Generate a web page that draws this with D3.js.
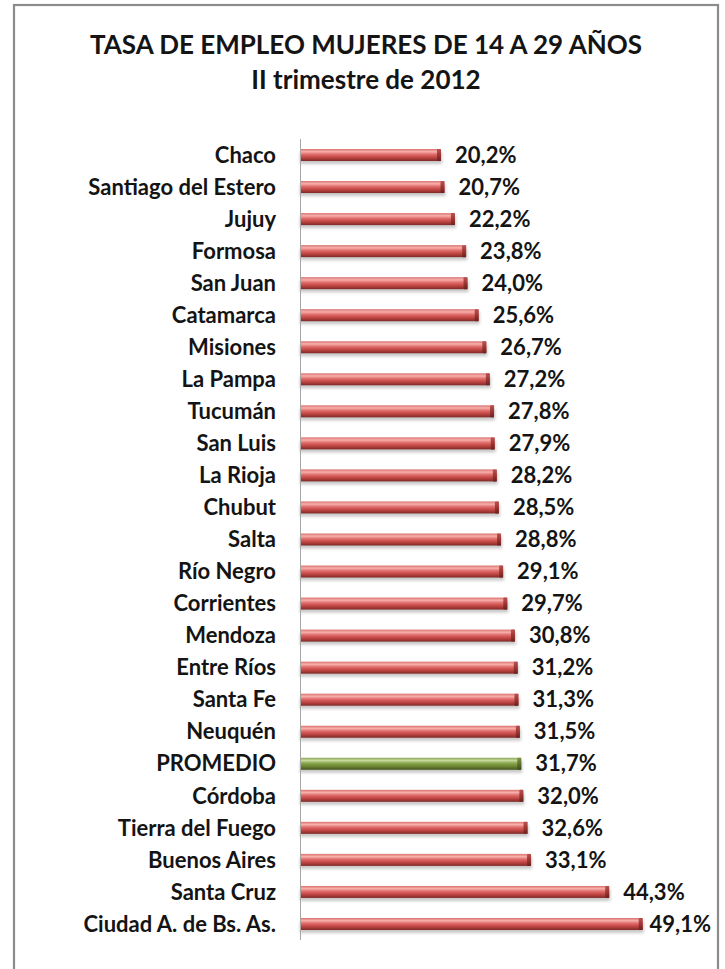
<!DOCTYPE html>
<html>
<head>
<meta charset="utf-8">
<script src="https://cdn.jsdelivr.net/npm/d3@7"></script>
<style>
  html, body { margin: 0; padding: 0; background: #fff; }
  svg { display: block; }
  text { font-family: Lato, "Open Sans", sans-serif; font-weight: bold; fill: #141414; }
</style>
</head>
<body>
<svg id="chart" width="725" height="969"></svg>
<script>
const titleLines = ["TASA DE EMPLEO MUJERES DE 14 A 29 AÑOS", "II trimestre de 2012"];
const categories = ["Chaco", "Santiago del Estero", "Jujuy", "Formosa", "San Juan", "Catamarca",
  "Misiones", "La Pampa", "Tucumán", "San Luis", "La Rioja", "Chubut", "Salta", "Río Negro",
  "Corrientes", "Mendoza", "Entre Ríos", "Santa Fe", "Neuquén", "PROMEDIO", "Córdoba",
  "Tierra del Fuego", "Buenos Aires", "Santa Cruz", "Ciudad A. de Bs. As."];
const values = [20.2, 20.7, 22.2, 23.8, 24.0, 25.6, 26.7, 27.2, 27.8, 27.9, 28.2, 28.5, 28.8, 29.1,
  29.7, 30.8, 31.2, 31.3, 31.5, 31.7, 32.0, 32.6, 33.1, 44.3, 49.1];
const highlight = "PROMEDIO";

const svg = d3.select("#chart");
const defs = svg.append("defs");

function grad(id, stops) {
  const g = defs.append("linearGradient").attr("id", id)
    .attr("x1", 0).attr("y1", 0).attr("x2", 0).attr("y2", 1);
  stops.forEach(s => g.append("stop").attr("offset", s[0]).attr("stop-color", s[1]));
}
grad("gRed", [[0, "#d9706d"], [0.22, "#f7b0ad"], [0.45, "#e06b68"], [0.75, "#b8403d"], [1, "#7e2a28"]]);
grad("gGreen", [[0, "#8aa553"], [0.22, "#c6d9a0"], [0.45, "#8aa64e"], [0.75, "#67802f"], [1, "#44561f"]]);
grad("gRedCap", [[0, "#b85350"], [0.4, "#a53b38"], [1, "#6b2120"]]);
grad("gGreenCap", [[0, "#7a9447"], [0.4, "#63792f"], [1, "#3b4a1a"]]);

const filt = defs.append("filter").attr("id", "shadow")
  .attr("x", "-5%").attr("y", "-50%").attr("width", "110%").attr("height", "250%");
filt.append("feGaussianBlur").attr("stdDeviation", 1.6);

// frame
svg.append("rect").attr("x", 14).attr("y", 5).attr("width", 704).attr("height", 980)
  .attr("fill", "none").attr("stroke", "#8c8c8c").attr("stroke-width", 2.2);

// title
svg.append("text").attr("x", 366).attr("y", 54).attr("text-anchor", "middle")
  .style("font-size", "26px").text(titleLines[0]);
svg.append("text").attr("x", 366).attr("y", 89).attr("text-anchor", "middle")
  .style("font-size", "26px").text(titleLines[1]);

const x = d3.scaleLinear().domain([0, 50]).range([300, 649]);
const y = d3.scaleBand().domain(categories).range([139, 940]).paddingInner(0).paddingOuter(0);

const barH = 12;
const data = categories.map((c, i) => ({ c, v: values[i] }));

// category labels via axis
const yAxis = d3.axisLeft(y).tickSize(0).tickPadding(24);
const ag = svg.append("g").attr("transform", `translate(${x(0)},0)`).call(yAxis);
ag.select(".domain").remove();
ag.selectAll("text").style("font-size", "22px").style("font-family", "Lato, 'Open Sans', sans-serif")
  .style("font-weight", "bold").attr("fill", "#141414").attr("dy", "0.35em");

const bars = svg.append("g");
const bg = bars.selectAll("g.bar").data(data).join("g").attr("class", "bar");
const cy = d => y(d.c) + y.bandwidth() / 2;

// shadow
bg.append("rect")
  .attr("x", x(0)).attr("y", d => cy(d) - barH / 2 + 3)
  .attr("width", d => x(d.v) - x(0) + 1).attr("height", barH)
  .attr("fill", "#9a9a9a").attr("opacity", 0.55).attr("filter", "url(#shadow)");
// body
bg.append("rect")
  .attr("x", x(0)).attr("y", d => cy(d) - barH / 2)
  .attr("width", d => x(d.v) - x(0)).attr("height", barH)
  .attr("fill", d => d.c === highlight ? "url(#gGreen)" : "url(#gRed)");
// end cap
bg.append("rect")
  .attr("x", d => x(d.v) - 4).attr("y", d => cy(d) - barH / 2)
  .attr("width", 4).attr("height", barH).attr("rx", 1)
  .attr("fill", d => d.c === highlight ? "url(#gGreenCap)" : "url(#gRedCap)");

// axis line
svg.append("line").attr("x1", x(0) + 0.5).attr("x2", x(0) + 0.5)
  .attr("y1", 139).attr("y2", 940).attr("stroke", "#a6a6a6").attr("stroke-width", 1);

// value labels
const fmt = v => v.toFixed(1).replace(".", ",") + "%";
const lbl = svg.append("g").selectAll("text").data(data).join("text")
  .attr("y", d => cy(d)).attr("dy", "0.35em")
  .style("font-size", "22px").text(d => fmt(d.v));
lbl.each(function (d) {
  const w = this.getComputedTextLength();
  let lx = x(d.v) + 14;
  if (lx + w > 711) lx = 711 - w;
  d3.select(this).attr("x", lx);
});
</script>
</body>
</html>
